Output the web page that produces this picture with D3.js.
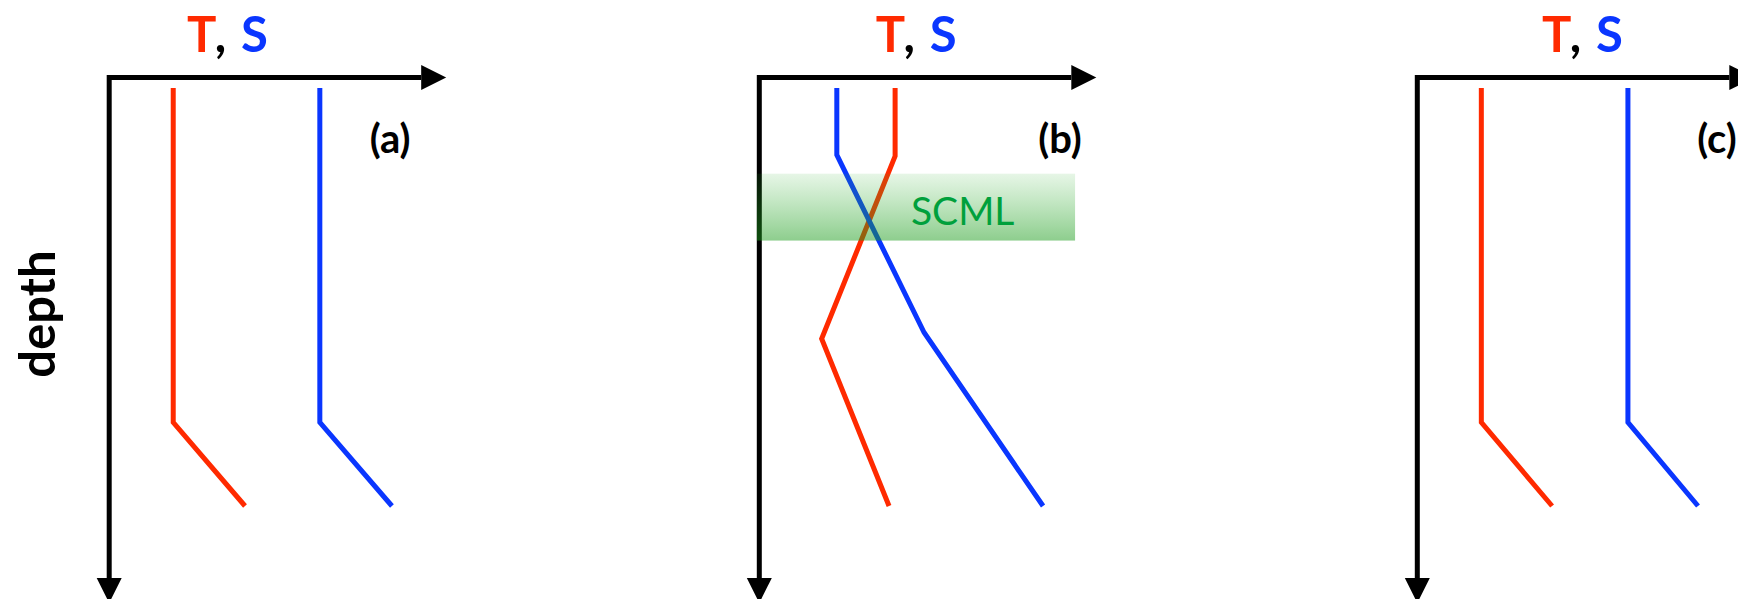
<!DOCTYPE html>
<html>
<head>
<meta charset="utf-8">
<script src="https://cdn.jsdelivr.net/npm/d3@7"></script>
<style>
  html, body { margin: 0; padding: 0; background: #fff; overflow: hidden; }
  svg { display: block; }
</style>
</head>
<body>
<svg id="fig" width="1738" height="599"></svg>
<script>
// ---- Data: schematic T and S profiles (arbitrary units 0–100) versus depth (0 = surface, 100 = deepest point drawn)
const panelIds = ["a", "b", "c"];

// Panel (a)
const depthA = [0, 80, 100];
const tempA  = [19, 19, 40.3];
const salA   = [62.5, 62.5, 83.9];

// Panel (b): T and S cross inside the subsurface chlorophyll maximum layer
const depthTB = [0, 16.3, 60, 100];
const tempB   = [40.3, 40.3, 18.5, 38.5];
const depthSB = [0, 16, 58.5, 100];
const salB    = [23, 23, 48.9, 84.2];

// Panel (c)
const depthC = [0, 80, 100];
const tempC  = [19, 19, 40];
const salC   = [62.5, 62.5, 83.3];

// SCML layer in (b): depth range and horizontal extent in T/S units
const scmlDepth  = [20.5, 36.5];
const scmlExtent = [0, 93.7];
const scmlLabel  = "SCML";

const axisTitleX = ["T", ", ", "S"];
const axisTitleY = "depth";

// ---- Layout
const W = 1738, H = 599;
const layout = {
  a: { ox: 109.2, titleDx: 119,   tagDx: 281 },
  b: { ox: 759.3, titleDx: 157.7, tagDx: 300.7 },
  c: { ox: 1417.3, titleDx: 166,  tagDx: 299.7 }
};
const axisY = 77.5;        // horizontal axis line
const axisLen = 337;       // horizontal axis length incl. arrow
const axisBottom = 603;    // tip of depth arrow
const arrowLen = 25, arrowHalf = 12.5;
const axisW = 5, lineW = 5;
const profileTop = 88, profileBottom = 506;

const RED = "#ff2a00", BLUE = "#0a36ff", GREEN_TXT = "#00a03c";
const FONT = "Lato, 'Open Sans', 'Noto Sans', sans-serif";

const yScale = d3.scaleLinear().domain([0, 100]).range([profileTop, profileBottom]);

const profiles = {
  a: [ { t: tempA, d: depthA, c: RED }, { t: salA, d: depthA, c: BLUE } ],
  b: [ { t: tempB, d: depthTB, c: RED }, { t: salB, d: depthSB, c: BLUE } ],
  c: [ { t: tempC, d: depthC, c: RED }, { t: salC, d: depthC, c: BLUE } ]
};

const svg = d3.select("#fig");
svg.append("rect").attr("width", W).attr("height", H).attr("fill", "#fff");

// gradient for the SCML band
const defs = svg.append("defs");
const grad = defs.append("linearGradient").attr("id", "scmlGrad")
  .attr("x1", 0).attr("y1", 0).attr("x2", 0).attr("y2", 1);
grad.append("stop").attr("offset", "0%").attr("stop-color", "#30b030").attr("stop-opacity", 0.12);
grad.append("stop").attr("offset", "100%").attr("stop-color", "#1c9c1c").attr("stop-opacity", 0.5);

panelIds.forEach(id => {
  const L = layout[id];
  const ox = L.ox;
  const xScale = d3.scaleLinear().domain([0, 100]).range([ox, ox + axisLen]);
  const g = svg.append("g").attr("class", "panel panel-" + id);

  // axes (corner at top-left, arrows pointing right and down)
  g.append("path")
    .attr("d", `M${ox},${axisBottom - arrowLen} L${ox},${axisY} L${ox + axisLen - arrowLen},${axisY}`)
    .attr("fill", "none").attr("stroke", "#000").attr("stroke-width", axisW)
    .attr("stroke-linejoin", "miter").attr("stroke-linecap", "butt");
  g.append("path")
    .attr("d", `M${ox + axisLen - arrowLen},${axisY - arrowHalf} L${ox + axisLen},${axisY} L${ox + axisLen - arrowLen},${axisY + arrowHalf} Z`)
    .attr("fill", "#000");
  g.append("path")
    .attr("d", `M${ox - arrowHalf},${axisBottom - arrowLen} L${ox},${axisBottom} L${ox + arrowHalf},${axisBottom - arrowLen} Z`)
    .attr("fill", "#000");

  // profiles
  const line = d3.line().x(p => xScale(p[0])).y(p => yScale(p[1]));
  profiles[id].forEach(pr => {
    g.append("path")
      .datum(pr.t.map((v, i) => [v, pr.d[i]]))
      .attr("d", line)
      .attr("fill", "none").attr("stroke", pr.c).attr("stroke-width", lineW)
      .attr("stroke-linejoin", "miter").attr("stroke-linecap", "butt");
  });

  // SCML layer
  if (id === "b") {
    g.append("rect")
      .attr("x", xScale(scmlExtent[0]) - axisW / 2)
      .attr("y", yScale(scmlDepth[0]))
      .attr("width", xScale(scmlExtent[1]) - xScale(scmlExtent[0]) + axisW / 2)
      .attr("height", yScale(scmlDepth[1]) - yScale(scmlDepth[0]))
      .attr("fill", "url(#scmlGrad)");
    g.append("text")
      .attr("x", xScale(45)).attr("y", yScale(32.8))
      .attr("font-family", FONT).attr("font-size", 39).attr("fill", GREEN_TXT)
      .text(scmlLabel);
  }

  // axis title "T, S"
  const t = g.append("text")
    .attr("x", ox + L.titleDx).attr("y", 52)
    .attr("text-anchor", "middle")
    .attr("font-family", FONT).attr("font-weight", 700).attr("font-size", 49)
    .attr("letter-spacing", 1.5);
  t.append("tspan").attr("fill", RED).text(axisTitleX[0]);
  t.append("tspan").attr("fill", "#000").text(axisTitleX[1]);
  t.append("tspan").attr("fill", BLUE).text(axisTitleX[2]);

  // panel tag
  g.append("text")
    .attr("x", ox + L.tagDx).attr("y", 153)
    .attr("text-anchor", "middle")
    .attr("font-family", FONT).attr("font-weight", 700).attr("font-size", 40)
    .attr("fill", "#000")
    .text(`(${id})`);
});

// depth label (shared, left of panel a)
svg.append("text")
  .attr("transform", "translate(55,314) rotate(-90)")
  .attr("text-anchor", "middle")
  .attr("font-family", FONT).attr("font-weight", 700).attr("font-size", 49)
  .attr("fill", "#000")
  .text(axisTitleY);
</script>
</body>
</html>
